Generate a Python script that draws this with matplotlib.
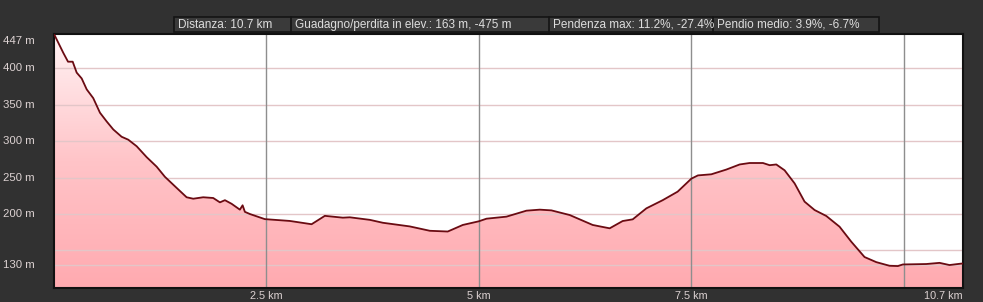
import numpy as np
import matplotlib
matplotlib.use("Agg")
import matplotlib.pyplot as plt
from matplotlib.patches import Rectangle, Polygon
from matplotlib.colors import LinearSegmentedColormap

# ---- data ----
dist_km = [0.00, 0.11, 0.165, 0.22, 0.267, 0.326, 0.385, 0.462, 0.541, 0.62, 0.698, 0.796,
           0.874, 0.973, 1.091, 1.208, 1.306, 1.424, 1.561, 1.639, 1.756, 1.874, 1.953, 2.012,
           2.091, 2.188, 2.22, 2.247, 2.306, 2.482, 2.776, 3.032, 3.188, 3.4, 3.482, 3.718,
           3.871, 4.188, 4.424, 4.635, 4.812, 5.0, 5.091, 5.326, 5.561, 5.718, 5.855, 6.071,
           6.341, 6.444, 6.541, 6.694, 6.812, 6.973, 7.165, 7.341, 7.502, 7.58, 7.737, 7.914,
           8.071, 8.188, 8.345, 8.424, 8.502, 8.6, 8.718, 8.835, 8.953, 9.091, 9.247, 9.385,
           9.541, 9.679, 9.835, 9.933, 9.992, 10.267, 10.424, 10.541, 10.68, 10.7]
elev_m = [447, 421, 409, 409, 394, 386, 371, 359, 339, 327, 316, 306,
          302, 293, 278, 265, 251, 238, 223, 221, 223, 222, 216, 219,
          214, 206, 212, 203, 200, 193, 190.5, 186, 197.5, 195, 195.5, 192,
          188, 183, 177, 176, 185, 190, 193.6, 196.4, 204.6, 206, 205, 198.6,
          185, 182.6, 180.4, 190.4, 192.7, 207.8, 219, 230.7, 248.5, 253, 254.5, 261,
          268, 270, 270, 267, 268, 260, 242, 217, 205.5, 197.3, 182.6, 162,
          141, 134, 129, 128.6, 130.8, 131.4, 133, 130, 132, 132]

ytick_vals = [447, 400, 350, 300, 250, 200, 130]
ytick_labels = ["447 m", "400 m", "350 m", "300 m", "250 m", "200 m", "130 m"]
hgrid_vals = [400, 350, 300, 250, 200, 150, 130]
xgrid_vals = [2.5, 5, 7.5, 10]
xtick_vals = [2.5, 5, 7.5, 10.7]
xtick_labels = ["2.5 km", "5 km", "7.5 km", "10.7 km"]
header_texts = ["Distanza: 10.7 km", "Guadagno/perdita in elev.: 163 m, -475 m",
                "Pendenza max: 11.2%, -27.4%", "Pendio medio: 3.9%, -6.7%"]

font = ["Liberation Sans", "DejaVu Sans"]

W, H = 983, 302
fig = plt.figure(figsize=(W / 100, H / 100), dpi=100)
bg = "#313131"
fig.patch.set_facecolor(bg)

L, R, T, B = 54, 963, 34, 288
ax = fig.add_axes([L / W, 1 - B / H, (R - L) / W, (B - T) / H])
ymin, ymax = 98.5, 447
xmax = 10.7
ax.set_xlim(0, xmax)
ax.set_ylim(ymin, ymax)
ax.set_facecolor("white")

# gradient fill under the profile
cmap = LinearSegmentedColormap.from_list("g", ["#ffaab0", "#ffc4c8", "#fff3f4"])
grad = np.linspace(0, 1, 256).reshape(-1, 1)
im = ax.imshow(grad, cmap=cmap, aspect="auto", extent=[0, xmax, ymin, ymax],
               origin="lower", zorder=1)
verts = np.vstack([np.column_stack([dist_km, elev_m]),
                   [[xmax, ymin], [0, ymin]]])
clip = Polygon(verts, closed=True, transform=ax.transData, facecolor="none", edgecolor="none")
ax.add_patch(clip)
im.set_clip_path(clip)

for v in hgrid_vals:
    ax.axhline(v, color="#e3c6c8", lw=1.0, zorder=2)
for v in xgrid_vals:
    ax.axvline(v, color="#8e8e8e", lw=1.0, zorder=2)

ax.plot(dist_km, elev_m, color="#6a0b12", lw=1.3, zorder=3)

ax.set_xticks([])
ax.set_yticks([])
for s in ax.spines.values():
    s.set_color("#111111")
    s.set_linewidth(1.5)

tick_color = "#dcd2d2"
for v, lab in zip(ytick_vals, ytick_labels):
    yy = v if v != 447 else 437
    ax.text(-51 / (R - L), yy, lab, transform=ax.get_yaxis_transform(),
            ha="left", va="center", color=tick_color, fontsize=8.2, family=font)
for v, lab in zip(xtick_vals, xtick_labels):
    ha = "center" if v != 10.7 else "right"
    xx = v if v != 10.7 else 10.69
    ax.text(xx, -0.032, lab, transform=ax.get_xaxis_transform(), ha=ha, va="center",
            color=tick_color, fontsize=7.8, family=font)

# header box
bx0, bx1, by0, by1 = 174, 879, 17, 32
fig.patches.append(Rectangle((bx0 / W, 1 - by1 / H), (bx1 - bx0) / W, (by1 - by0) / H,
                             transform=fig.transFigure, facecolor="#3a3a3a",
                             edgecolor="#141414", lw=1.2))
dividers = [291, 549, 713]
for d in dividers:
    fig.add_artist(plt.Line2D([d / W, d / W], [1 - by1 / H, 1 - by0 / H],
                              transform=fig.transFigure, color="#141414", lw=1.2))
starts = [bx0, 291, 549, 713]
for s, t in zip(starts, header_texts):
    fig.text((s + 4) / W, 1 - 24.7 / H, t, ha="left", va="center", color="#dedede",
             fontsize=8.5, family=font)

fig.savefig("out.png", dpi=100, facecolor=bg)
